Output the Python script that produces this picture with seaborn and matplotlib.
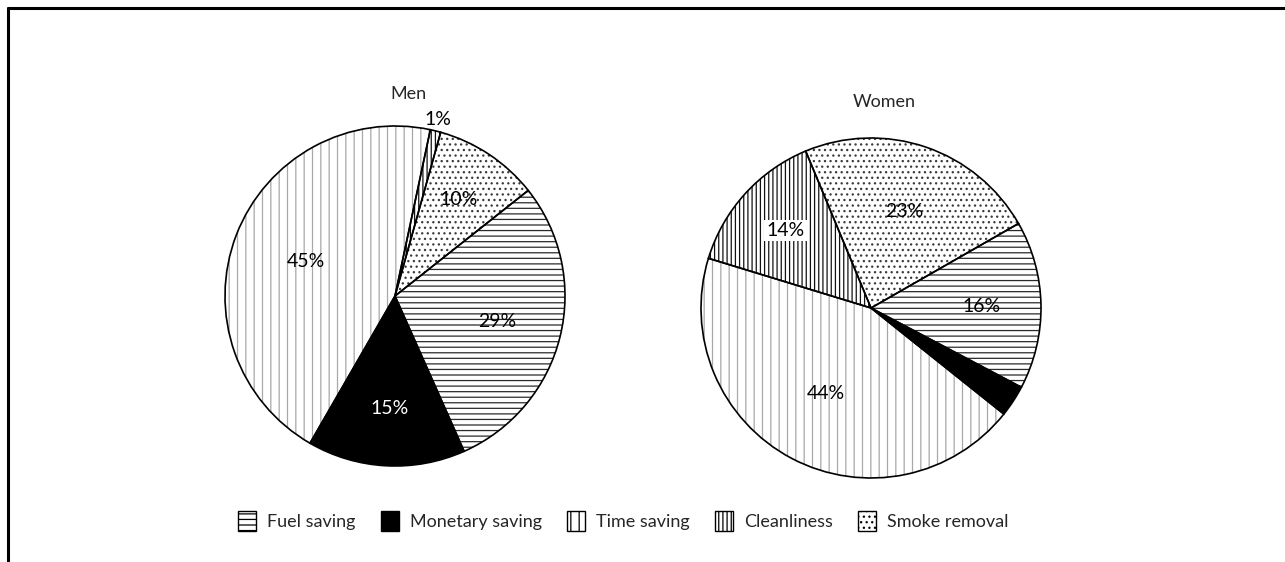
import numpy as np
import pandas as pd
import matplotlib
matplotlib.use("Agg")
import matplotlib.pyplot as plt
from matplotlib.lines import Line2D
import seaborn as sns

# ---------------- data ----------------
categories = ["Fuel saving", "Monetary saving", "Time saving", "Cleanliness", "Smoke removal"]
men_values = [29, 15, 45, 1, 10]
women_values = [16, 3, 44, 14, 23]
pie_titles = ["Men", "Women"]

df = pd.DataFrame({"category": categories, "Men": men_values, "Women": women_values})

# ---------------- style ----------------
sns.set_theme(style="white")
plt.rcParams["font.family"] = ["Lato", "DejaVu Sans"]
plt.rcParams["hatch.linewidth"] = 0.9

draw_order = ["Cleanliness", "Smoke removal", "Fuel saving", "Monetary saving", "Time saving"]
styles = {
    "Fuel saving":     dict(face="white", hatch="---", hcol="#2a2a2a"),
    "Monetary saving": dict(face="black", hatch=None, hcol="black"),
    "Time saving":     dict(face="white", hatch="||", hcol="#a8a8a8"),
    "Cleanliness":     dict(face="white", hatch="||||", hcol="#111111"),
    "Smoke removal":   dict(face="white", hatch="...", hcol="#3a3a3a"),
}
start_angles = {"Men": 78, "Women": 163}
label_dist = {
    "Men": {"Cleanliness": 1.07, "Smoke removal": 0.68, "Fuel saving": 0.62,
            "Monetary saving": 0.66, "Time saving": 0.56},
    "Women": {"Cleanliness": 0.68, "Smoke removal": 0.60, "Fuel saving": 0.65,
              "Monetary saving": 1.15, "Time saving": 0.57},
}
centers_px = {"Men": (395, 296), "Women": (871, 308)}
radius_px = 170
W, H = 1285, 562

fig = plt.figure(figsize=(W / 100, H / 100), dpi=100)
fig.patch.set_facecolor("white")

lim = 1.25
side = radius_px * 2 * lim
legend_wedges = {}
for name in pie_titles:
    cx, cy = centers_px[name]
    ax = fig.add_axes([(cx - side / 2) / W, (H - cy - side / 2) / H, side / W, side / H])
    sub = df.set_index("category").loc[draw_order, name]
    # layer 1: fills + hatches (hatch colour comes from the edge colour)
    wedges, _ = ax.pie(sub.values, startangle=start_angles[name], counterclock=False,
                       radius=1.0, wedgeprops=dict(linewidth=0))
    for cat, w in zip(draw_order, wedges):
        st = styles[cat]
        w.set_facecolor(st["face"])
        w.set_edgecolor(st["hcol"])
        if st["hatch"]:
            w.set_hatch(st["hatch"])
        w.set_label(cat)
        if name == "Men":
            legend_wedges[cat] = w
    # layer 2: black outlines
    outl, _ = ax.pie(sub.values, startangle=start_angles[name], counterclock=False,
                     radius=1.0, wedgeprops=dict(linewidth=1.2, edgecolor="black", fill=False))
    for cat, w in zip(draw_order, outl):
        mid = np.deg2rad((w.theta1 + w.theta2) / 2)
        d = label_dist[name][cat]
        val = int(sub[cat])
        color = "white" if cat == "Monetary saving" else "black"
        bbox = None
        if name == "Women" and cat == "Cleanliness":
            bbox = dict(facecolor="white", edgecolor="none", pad=1.5)
        ax.text(d * np.cos(mid), d * np.sin(mid), f"{val}%", ha="center", va="center",
                fontsize=14, color=color, bbox=bbox)
    ax.set_xlim(-lim, lim)
    ax.set_ylim(-lim, lim)
    ax.set_aspect("equal")
    ax.axis("off")
    ty = {"Men": 1.19, "Women": 1.21}[name]
    ax.text(0.08, ty, name, ha="center", va="center", fontsize=13)

handles = [legend_wedges[c] for c in categories]
leg = fig.legend(handles, categories, loc="center", bbox_to_anchor=(0.485, 0.073), ncol=5,
                 frameon=False, fontsize=13, handlelength=1.0, handleheight=1.3,
                 columnspacing=1.4, handletextpad=0.6)
for h in leg.legend_handles:
    h.set_edgecolor("black")
    h.set_linewidth(1.0)

# page frame (top and left edges)
fig.add_artist(Line2D([8 / W, 1.0], [1 - 8 / H, 1 - 8 / H], color="black", linewidth=2.2,
                      transform=fig.transFigure))
fig.add_artist(Line2D([8 / W, 8 / W], [1 - 8 / H, 0.0], color="black", linewidth=2.2,
                      transform=fig.transFigure))

fig.savefig("out.png", dpi=100, facecolor="white")
